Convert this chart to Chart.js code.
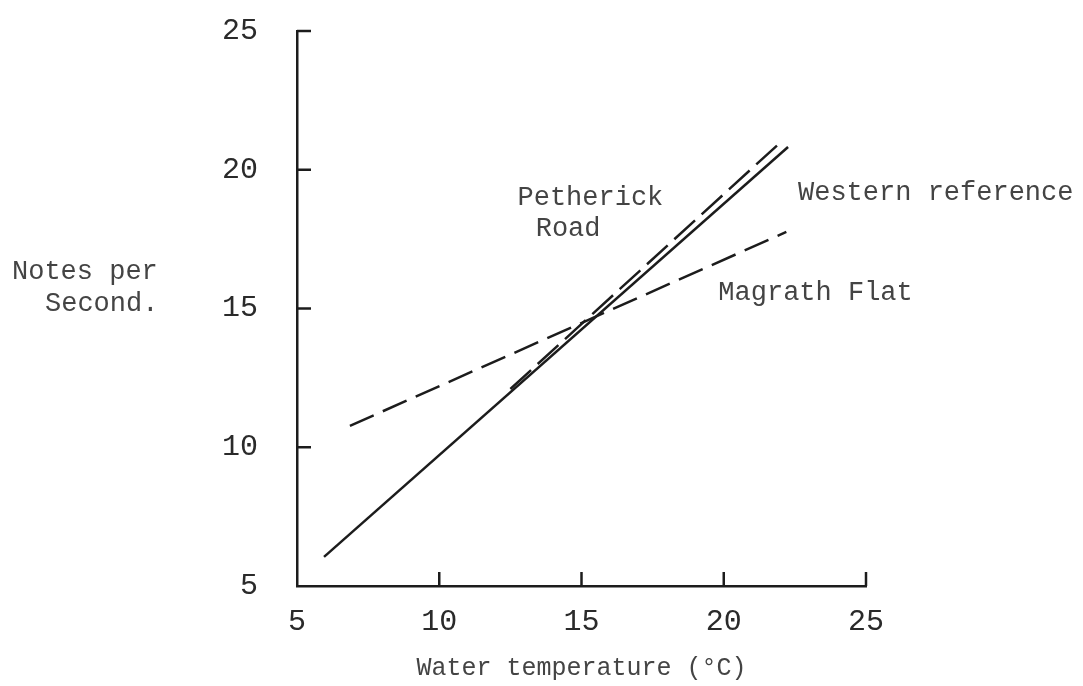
<!DOCTYPE html>
<html>
<head>
<meta charset="utf-8">
<script src="https://cdn.jsdelivr.net/npm/chart.js@4.4.1/dist/chart.umd.min.js"></script>
<style>
    html, body { margin: 0; padding: 0; background: #fff; }
</style>
</head>
<body>
<canvas id="chart" width="1083" height="686"></canvas>
<script>
// values
var tickValues = [5, 10, 15, 20, 25];

var westernX = [5.95, 22.26];
var westernY = [6.05, 20.82];

var petherickX = [12.5, 22.05];
var petherickY = [12.1, 21.04];

var magrathX = [6.86, 22.2];
var magrathY = [10.77, 17.76];

var labelNames = ['Petherick', 'Road', 'Western reference', 'Magrath Flat'];
var labelX = [12.75, 13.39, 22.61, 19.81];
var labelY = [18.98, 17.86, 19.16, 15.56];

function toPoints(xs, ys) {
    return xs.map(function(x, i) { return { x: x, y: ys[i] }; });
}

var ink = '#1c1c1c';
var textInk = '#444';
var mono = "'Liberation Mono', 'DejaVu Sans Mono', monospace";

// inward tick marks, curve labels and the y axis caption
var paperPlugin = {
    id: 'paper',
    afterDraw: function(chart) {
        var ctx = chart.ctx;
        var xs = chart.scales.x, ys = chart.scales.y;
        var area = chart.chartArea;
        ctx.save();
        ctx.strokeStyle = ink;
        ctx.lineWidth = 2.5;
        tickValues.forEach(function(v) {
            if (v === 5) return;
            var px = xs.getPixelForValue(v);
            ctx.beginPath();
            ctx.moveTo(px, area.bottom);
            ctx.lineTo(px, area.bottom - 14);
            ctx.stroke();
            var py = ys.getPixelForValue(v);
            ctx.beginPath();
            ctx.moveTo(area.left, py);
            ctx.lineTo(area.left + 14, py);
            ctx.stroke();
        });

        ctx.fillStyle = textInk;
        ctx.font = '27px ' + mono;
        ctx.textBaseline = 'middle';
        ctx.textAlign = 'left';
        labelNames.forEach(function(t, i) {
            ctx.fillText(t, xs.getPixelForValue(labelX[i]), ys.getPixelForValue(labelY[i]));
        });
        ctx.fillText('Notes per', 12, 272);
        ctx.fillText('Second.', 45, 304);
        ctx.restore();
    }
};

var lineStyle = {
    showLine: true,
    pointRadius: 0,
    borderColor: ink,
    borderWidth: 2.5,
    fill: false
};

new Chart(document.getElementById('chart').getContext('2d'), {
    type: 'scatter',
    data: {
        datasets: [
            Object.assign({ label: 'Western reference', data: toPoints(westernX, westernY) }, lineStyle),
            Object.assign({ label: 'Petherick Road', data: toPoints(petherickX, petherickY), borderDash: [28, 9] }, lineStyle),
            Object.assign({ label: 'Magrath Flat', data: toPoints(magrathX, magrathY), borderDash: [26, 10] }, lineStyle)
        ]
    },
    options: {
        responsive: false,
        animation: false,
        layout: { padding: { left: 183, right: 217, top: 31, bottom: -18 } },
        plugins: {
            legend: { display: false },
            tooltip: { enabled: false }
        },
        scales: {
            x: {
                type: 'linear',
                min: 5,
                max: 25,
                afterBuildTicks: function(axis) {
                    axis.ticks = tickValues.map(function(v) { return { value: v }; });
                },
                ticks: { color: '#2a2a2a', font: { family: mono, size: 30 }, padding: 18 },
                grid: { display: false, drawTicks: false },
                border: { display: true, color: ink, width: 2.5 },
                title: {
                    display: true,
                    text: 'Water temperature (\u00B0C)',
                    color: textInk,
                    font: { family: mono, size: 25 },
                    padding: { top: -5, bottom: 21 }
                }
            },
            y: {
                type: 'linear',
                min: 5,
                max: 25,
                afterBuildTicks: function(axis) {
                    axis.ticks = tickValues.map(function(v) { return { value: v }; });
                },
                // the wide label gap should not push the plot down
                afterFit: function(axis) {
                    axis.paddingTop = 0;
                    axis.paddingBottom = 0;
                },
                ticks: { color: '#2a2a2a', font: { family: mono, size: 30 }, padding: 39 },
                grid: { display: false, drawTicks: false },
                border: { display: true, color: ink, width: 2.5 }
            }
        }
    },
    plugins: [paperPlugin]
});
</script>
</body>
</html>
